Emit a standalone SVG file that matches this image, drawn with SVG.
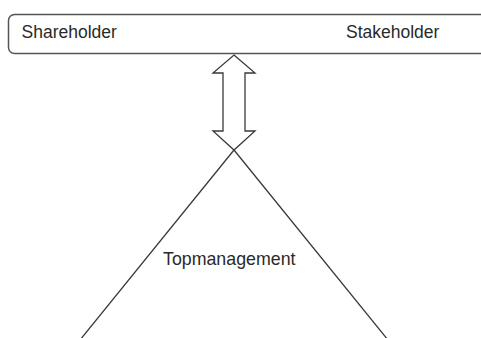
<svg xmlns="http://www.w3.org/2000/svg" width="481" height="338" viewBox="0 0 481 338">
<style>
.ln{fill:none;stroke:#3a3a3a;stroke-width:1.3}
.bx{fill:#fff;stroke:#555;stroke-width:1.5}
.t{font-family:"Liberation Sans",Arial,sans-serif;font-size:17.5px;fill:#2a2a2a}
</style>
<rect width="481" height="338" fill="#fff"/>
<g id="connectors">
<path class="ln" d="M234,150 L80,340 M234,150 L388,340"/>
<path class="ln" fill="#fff" d="M234,55 L255,73 L245,73 L245,131 L255,131 L234,150 L213,131 L223,131 L223,73 L213,73 Z"/>
</g>
<g id="stakeholders">
<rect class="bx" x="8.5" y="14.5" width="490" height="39" rx="6"/>
<text class="t" x="21.5" y="37.5">Shareholder</text>
<text class="t" x="346" y="37.5">Stakeholder</text>
</g>
<g id="topmanagement">
<text class="t" x="163" y="265" style="font-size:17.8px">Topmanagement</text>
</g>
</svg>
